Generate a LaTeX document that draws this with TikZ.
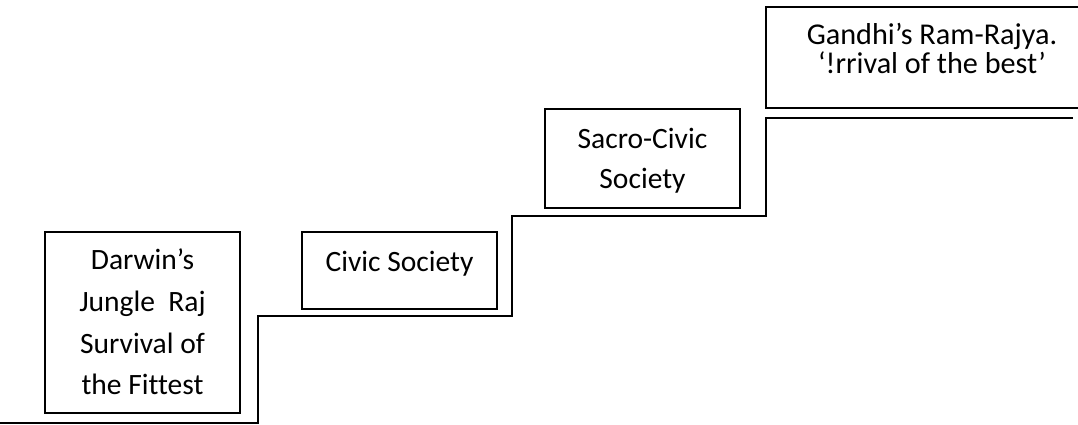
\documentclass[tikz,border=0pt]{standalone}
\usepackage{fontspec}
\setmainfont{Carlito}[Ligatures={TeX,NoCommon}]

\begin{document}
\begin{tikzpicture}[x=0.02cm,y=-0.02cm,every text node part/.style={align=center},
stepbox/.style={draw,line width=1.1pt,inner sep=0pt,minimum width=3.9cm,font=\fontsize{16.8}{23.9}\selectfont},
stair/.style={line width=1.1pt}]
\useasboundingbox (0,0) rectangle (1078,424);
\clip (0,0) rectangle (1078,424);
\node [stepbox,minimum height=3.62cm,text height=2.9cm,text depth=0cm] (darwin) at (142.5,322.5) {Darwin’s\\Jungle~ Raj\\Survival of\\the Fittest};
\node [stepbox,minimum height=1.54cm,text height=0.3cm,text depth=0.28cm] (civic) at (399.5,270.5) {Civic Society};
\node [stepbox,minimum height=1.98cm,text height=1.18cm,text depth=0cm,font=\fontsize{16.8}{22.2}\selectfont] (sacro) at (642.5,158.5) {Sacro-Civic\\Society};
\node [stepbox,minimum width=6.64cm,minimum height=2.02cm,text height=0.62cm,text depth=0cm,font=\fontsize{17.2}{16.4}\selectfont] (gandhi) at (932,57.5) {Gandhi’s Ram-Rajya.\\‘!rrival of the best’};
% the stairs
\coordinate (s0) at (0,423);
\coordinate (s1) at (258,423);
\coordinate (s2) at (258,316);
\coordinate (s3) at (512,316);
\coordinate (s4) at (512,216);
\coordinate (s5) at (766,216);
\coordinate (s6) at (766,118);
\coordinate (s7) at (1073,118);
\draw [stair] (s0) -- (s1) -- (s2) -- (s3) -- (s4) -- (s5) -- (s6) -- (s7);
\end{tikzpicture}
\end{document}
